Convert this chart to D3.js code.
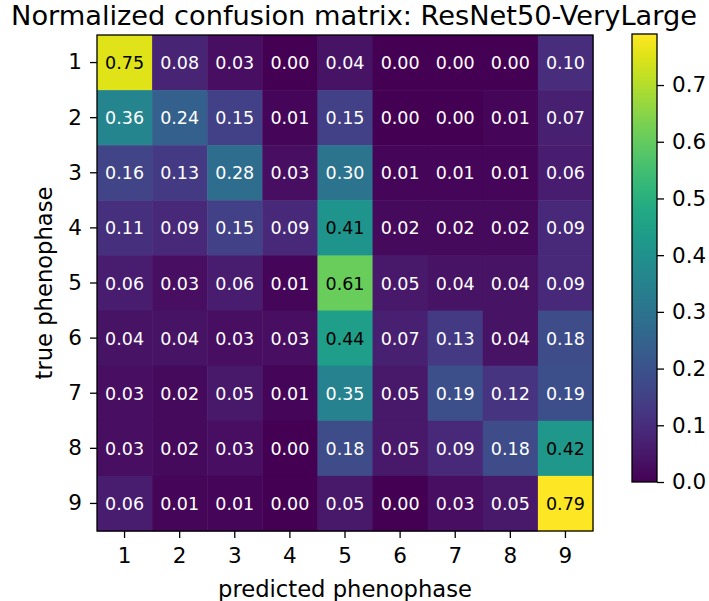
<!DOCTYPE html>
<html><head><meta charset="utf-8">
<script src="https://cdn.jsdelivr.net/npm/d3@7"></script>
<style>body{margin:0;background:#fff}svg{display:block;font-family:"DejaVu Sans",sans-serif}</style>
</head><body><svg id="c" width="709" height="601"></svg>
<script>
const classes = ["1","2","3","4","5","6","7","8","9"];
const row1 = [0.75,0.08,0.03,0.00,0.04,0.00,0.00,0.00,0.10];
const row2 = [0.36,0.24,0.15,0.01,0.15,0.00,0.00,0.01,0.07];
const row3 = [0.16,0.13,0.28,0.03,0.30,0.01,0.01,0.01,0.06];
const row4 = [0.11,0.09,0.15,0.09,0.41,0.02,0.02,0.02,0.09];
const row5 = [0.06,0.03,0.06,0.01,0.61,0.05,0.04,0.04,0.09];
const row6 = [0.04,0.04,0.03,0.03,0.44,0.07,0.13,0.04,0.18];
const row7 = [0.03,0.02,0.05,0.01,0.35,0.05,0.19,0.12,0.19];
const row8 = [0.03,0.02,0.03,0.00,0.18,0.05,0.09,0.18,0.42];
const row9 = [0.06,0.01,0.01,0.00,0.05,0.00,0.03,0.05,0.79];
const matrix = [row1,row2,row3,row4,row5,row6,row7,row8,row9];
const cbTicks = [0.0,0.1,0.2,0.3,0.4,0.5,0.6,0.7];
const title = "Normalized confusion matrix: ResNet50-VeryLarge";
const xLabel = "predicted phenophase";
const yLabel = "true phenophase";

const svg = d3.select("#c");
const L=97, T=35, S=496;
const vmax = d3.max(matrix.flat());
const color = d3.scaleSequential(d3.interpolateViridis).domain([0, vmax]);
const x = d3.scaleBand().domain(classes).range([L, L+S]);
const y = d3.scaleBand().domain(classes).range([T, T+S]);

const cells = [];
matrix.forEach((r,i)=>r.forEach((v,j)=>cells.push({i,j,v})));
svg.append("g").selectAll("rect").data(cells).join("rect")
  .attr("x",d=>x(classes[d.j])).attr("y",d=>y(classes[d.i]))
  .attr("width",x.bandwidth()+0.5).attr("height",y.bandwidth()+0.5)
  .attr("fill",d=>color(d.v));
svg.append("g").selectAll("text").data(cells).join("text")
  .attr("x",d=>x(classes[d.j])+x.bandwidth()/2)
  .attr("y",d=>y(classes[d.i])+y.bandwidth()/2+6.5)
  .attr("text-anchor","middle")
  .attr("font-size",17.5)
  .attr("fill",d=>d.v>vmax/2?"#000":"#fff")
  .text(d=>d.v.toFixed(2));
svg.append("rect").attr("x",L).attr("y",T).attr("width",S).attr("height",S)
  .attr("fill","none").attr("stroke","#000").attr("stroke-width",1.3);

const xa = svg.append("g").attr("transform",`translate(0,${T+S})`)
  .call(d3.axisBottom(x).tickSize(7).tickPadding(10));
const ya = svg.append("g").attr("transform",`translate(${L},0)`)
  .call(d3.axisLeft(y).tickSize(7).tickPadding(8));
[xa,ya].forEach(a=>{a.select(".domain").remove();
  a.selectAll("line").attr("stroke","#000").attr("stroke-width",1.3);
  a.selectAll("text").attr("font-size",21.5).attr("fill","#000").attr("font-family","DejaVu Sans");});

function fit(sel, w){ sel.attr("font-size",20); const n=sel.node().getComputedTextLength(); sel.attr("font-size",20*w/n); }
const xl = svg.append("text").attr("x",L+S/2).attr("y",597).attr("text-anchor","middle").text(xLabel);
fit(xl, 254);
const yl = svg.append("text").attr("transform",`translate(52,${T+S/2}) rotate(-90)`).attr("text-anchor","middle").text(yLabel);
fit(yl, 193);
const tt = svg.append("text").attr("x",354).attr("y",25).attr("text-anchor","middle").text(title);
fit(tt, 686);

// colorbar
const cbL=632, cbW=25, cbT=34, cbB=482;
const cs = d3.scaleLinear().domain([0,vmax]).range([cbB,cbT]);
const defs = svg.append("defs");
const grad = defs.append("linearGradient").attr("id","g").attr("x1",0).attr("x2",0).attr("y1",1).attr("y2",0);
d3.range(0,1.0001,0.05).forEach(t=>grad.append("stop").attr("offset",t).attr("stop-color",color(t*vmax)));
svg.append("rect").attr("x",cbL).attr("y",cbT).attr("width",cbW).attr("height",cbB-cbT)
  .attr("fill","url(#g)").attr("stroke","#000").attr("stroke-width",1.3);
const ca = svg.append("g").attr("transform",`translate(${cbL+cbW},0)`)
  .call(d3.axisRight(cs).tickValues(cbTicks).tickFormat(d3.format(".1f")).tickSize(7).tickPadding(8));
ca.select(".domain").remove();
ca.selectAll("line").attr("stroke","#000").attr("stroke-width",1.3);
ca.selectAll("text").attr("font-size",21.5).attr("fill","#000").attr("font-family","DejaVu Sans");
</script></body></html>
